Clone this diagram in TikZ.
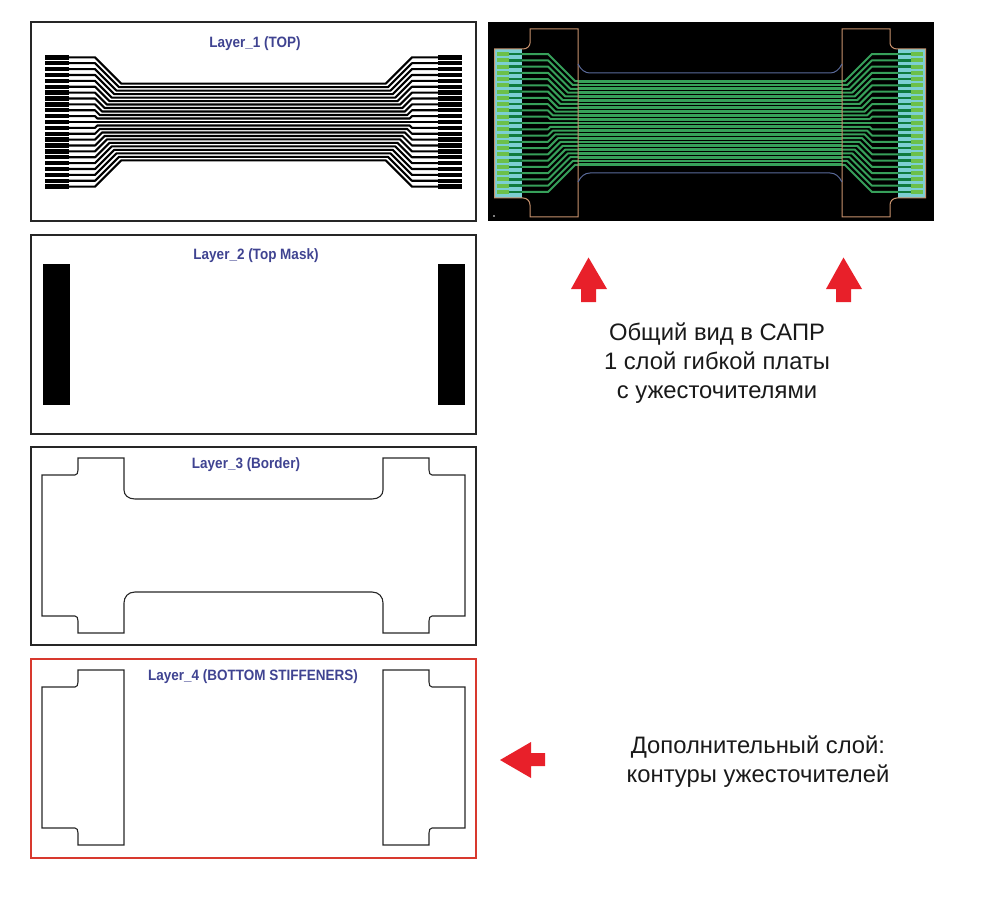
\documentclass[tikz,border=0pt]{standalone}
\usepackage{fontspec}
\setmainfont{Liberation Sans}
\definecolor{labelBlue}{HTML}{3F4391}
\definecolor{arrowRed}{HTML}{E8202A}
\definecolor{frameRed}{HTML}{D8392E}
\definecolor{padTeal}{HTML}{7CCFD3}
\definecolor{padGreen}{HTML}{6CC04A}
\definecolor{padDark}{HTML}{0E7A3E}
\definecolor{traceGreen}{HTML}{37A05A}
\definecolor{outlineOrange}{HTML}{C8926E}
\definecolor{outlineBlue}{HTML}{5A6A9A}

\begin{document}
\begin{tikzpicture}[x=1pt,y=-1pt]

		\tikzstyle{layer frame}=[black!85, line width=1.3pt]
		\tikzstyle{cut outline}=[black!85, line width=1.1pt]
		\tikzstyle{layer label}=[labelBlue, font=\fontsize{15}{18}\selectfont\bfseries, inner sep=0pt, xscale=0.9]
		\tikzstyle{note}=[black!90, font=\fontsize{23.8}{29}\selectfont, align=center, inner sep=0pt]
		\tikzstyle{trace}=[black, line width=2.1pt, line join=round]
		\tikzstyle{cadTrace}=[traceGreen, line width=2pt, line join=round]
		\tikzstyle{cadBus}=[traceGreen, line width=2.7pt]
		\tikzstyle{bigArrow}=[arrowRed, fill]

		\useasboundingbox (0,0) rectangle (992,917);

		%layer frames
		\draw [layer frame] (31,22) rectangle (476,221);
		\draw [layer frame] (31,235) rectangle (476,434);
		\draw [layer frame] (31,447) rectangle (476,645);
		\draw [layer frame, frameRed] (31,659) rectangle (476,858);

		%layer titles
		\node [layer label] (title1) at (255,43.5) {Layer\_1 (TOP)};
		\node [layer label] (title2) at (256,255.5) {Layer\_2 (Top Mask)};
		\node [layer label] (title3) at (246,464.5) {Layer\_3 (Border)};
		\node [layer label] (title4) at (253,676.5) {Layer\_4 (BOTTOM STIFFENERS)};

		%black CAD panel
		\fill [black] (488,22) rectangle (934,221);
		\fill [white] (494,216) circle [radius=0.9];

		%layer 1 traces
		\foreach \k in {-11,...,11}{
			\pgfmathsetmacro{\py}{122+\k*5.88}
			\pgfmathsetmacro{\by}{122+\k*3.49}
			\pgfmathsetmacro{\bx}{95+abs(\k)*2.39}
			\pgfmathsetmacro{\rx}{507-\bx}
			\draw [black, line width=4.4pt] (45,\py) -- (69,\py);
			\draw [black, line width=4.4pt] (438,\py) -- (462,\py);
			\draw [trace] (69,\py) -- (95,\py) -- (\bx,\by) -- (\rx,\by) -- (412,\py) -- (438,\py);
		}

		%layer 2 mask
		\fill [black] (43,264) rectangle (70,405);
		\fill [black] (438,264) rectangle (465,405);

		%layer 3 border
		\draw [cut outline] (135,499) .. controls (128,499) and (124,495) .. (124,490) -- (124,458) -- (78,458) -- (78,470) .. controls (78,473) and (77,475) .. (75,475) -- (42,475) -- (42,616) -- (75,616) .. controls (77,616) and (78,618) .. (78,621) -- (78,633) -- (124,633) -- (124,603) .. controls (124,597) and (128,592) .. (135,592) -- (372,592) .. controls (379,592) and (383,597) .. (383,603) -- (383,633) -- (429,633) -- (429,621) .. controls (429,618) and (430,616) .. (432,616) -- (465,616) -- (465,475) -- (432,475) .. controls (430,475) and (429,473) .. (429,470) -- (429,458) -- (383,458) -- (383,490) .. controls (383,495) and (379,499) .. (372,499) -- cycle;

		%layer 4 stiffeners
		\draw [cut outline] (124,670) -- (78,670) -- (78,682) .. controls (78,685) and (77,687) .. (75,687) -- (42,687) -- (42,828) -- (75,828) .. controls (77,828) and (78,830) .. (78,833) -- (78,845) -- (124,845) -- cycle;
		\draw [cut outline] (383,670) -- (429,670) -- (429,682) .. controls (429,685) and (430,687) .. (432,687) -- (465,687) -- (465,828) -- (432,828) .. controls (430,828) and (429,830) .. (429,833) -- (429,845) -- (383,845) -- cycle;

		%CAD pads and traces
		\fill [padTeal] (494.5,49) rectangle (522,198);
		\fill [padTeal] (898,49) rectangle (925.5,198);
		\foreach \k in {-11,...,11}{
			\pgfmathsetmacro{\py}{123+\k*6.27}
			\pgfmathsetmacro{\by}{123+\k*3.8}
			\pgfmathsetmacro{\bx}{548+abs(\k)*2.47}
			\pgfmathsetmacro{\rx}{1420-\bx}
			\draw [padGreen, line width=4pt] (497,\py) -- (509,\py);
			\draw [padDark, line width=2.6pt] (509,\py) -- (522,\py);
			\draw [padGreen, line width=4pt] (911,\py) -- (923,\py);
			\draw [padDark, line width=2.6pt] (898,\py) -- (911,\py);
			\draw [cadTrace] (522,\py) -- (548,\py) -- (\bx,\by) -- (578,\by);
			\draw [cadTrace] (898,\py) -- (872,\py) -- (\rx,\by) -- (842,\by);
			\draw [cadBus] (578,\by) -- (842,\by);
		}

		%CAD outlines
		\foreach \side/\sh in {1/0,-1/1420}{
			\begin{scope}[shift={(\sh,0)},xscale=\side]
				\draw [outlineOrange, line width=1pt] (494.5,49) -- (523,49) .. controls (527,49) and (530,46) .. (530,43) -- (530,29) -- (578,29) -- (578,217) -- (530,217) -- (530,205) .. controls (530,201) and (527,198) .. (523,198) -- (494.5,198) -- cycle;
			\end{scope}
		}
		\draw [outlineBlue, line width=1pt] (578,64) .. controls (581,70) and (585,73) .. (590,73) -- (830,73) .. controls (835,73) and (839,70) .. (842,64);
		\draw [outlineBlue, line width=1pt] (578,182) .. controls (581,176) and (585,173) .. (590,173) -- (830,173) .. controls (835,173) and (839,176) .. (842,182);

		%red arrows
		\foreach \ax in {0,255}{
			\fill [bigArrow] (\ax+588.5,257.5) -- (\ax+607,289) -- (\ax+596,289) -- (\ax+596,302) -- (\ax+581,302) -- (\ax+581,289) -- (\ax+571,289) -- cycle;
		}
		\fill [bigArrow] (500,760) -- (531,742) -- (531,753) -- (545,753) -- (545,766) -- (531,766) -- (531,778) -- cycle;

		%notes
		\node [note] (noteCad) at (717,363) {Общий вид в САПР\\1 слой гибкой платы\\с ужесточителями};
		\node [note] (noteStiff) at (758,761.5) {Дополнительный слой:\\контуры ужесточителей};

\end{tikzpicture}
\end{document}
